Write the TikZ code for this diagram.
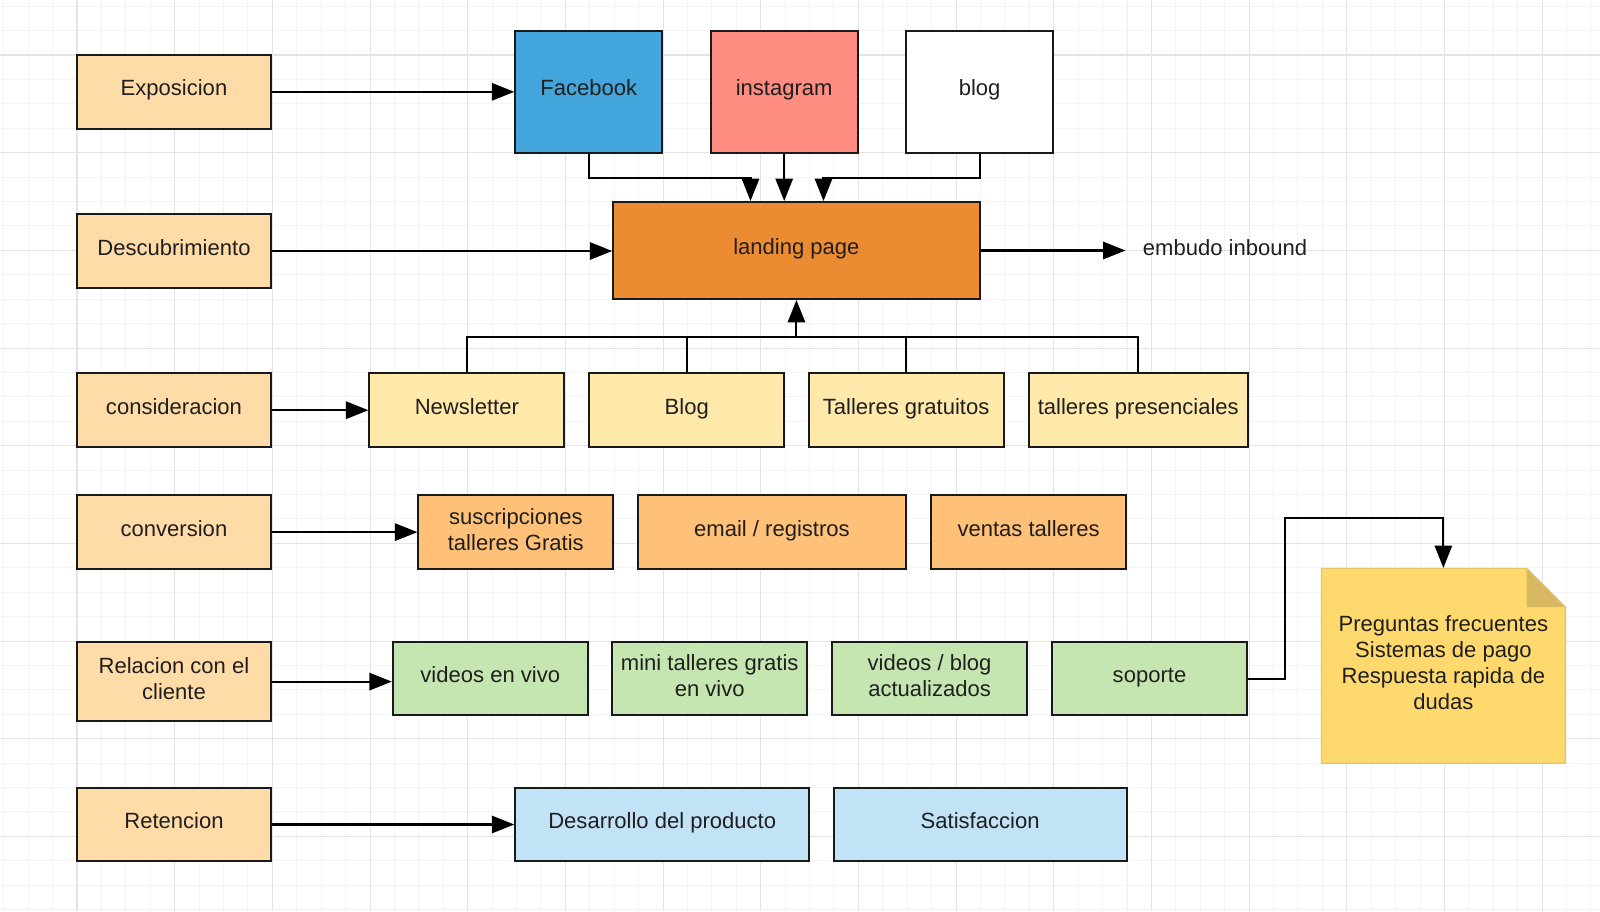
\documentclass[tikz,border=0pt]{standalone}
\usepackage{fontspec}
\setmainfont{Liberation Sans}
\usetikzlibrary{arrows.meta}
\definecolor{peach}{HTML}{FFDBA8}
\definecolor{fbblue}{HTML}{42A5DB}
\definecolor{igsalmon}{HTML}{FF8C80}
\definecolor{landorange}{HTML}{EC8C32}
\definecolor{paleyellow}{HTML}{FFE9AA}
\definecolor{paleorange}{HTML}{FFC077}
\definecolor{palegreen}{HTML}{C6E6B1}
\definecolor{paleblue}{HTML}{C2E2F5}
\definecolor{notefill}{HTML}{FFD96E}
\definecolor{noteedge}{HTML}{E6C566}
\definecolor{notefold}{HTML}{D8B961}
\definecolor{gridminor}{HTML}{F3F3F3}
\definecolor{gridmajor}{HTML}{E4E4E4}

\begin{document}
\begin{tikzpicture}[x=0.5pt,y=-0.5pt]
   \tikzstyle{every node}=[font=\fontsize{10.8}{12.8}\selectfont, text=black!88]
   \tikzstyle{box}=[draw=black!90, line width=1pt, minimum width=95.5pt, minimum height=36pt, align=center, inner sep=2pt, text height=0.72em, text depth=0.32em]
   \tikzstyle{twolines}=[text height=, text depth=, execute at end node={\rule[-3pt]{0pt}{0pt}}]
   \tikzstyle{stage}=[box, fill=peach]
   \tikzstyle{social}=[box, minimum width=72pt, minimum height=60pt]
   \tikzstyle{arr}=[line width=1pt, -{Triangle[length=11pt,width=8.5pt]}]
   \tikzstyle{link}=[line width=1pt]

\fill[white] (0,0) rectangle (1568,892.8);
\useasboundingbox (0,0) rectangle (1568,892.8);
\foreach \i in {-3,...,62} \draw[gridminor, line width=0.5pt] ({75.45+23.93*\i},0) -- ++(0,892.8);
\foreach \j in {-2,...,35} \draw[gridminor, line width=0.5pt] (0,{53.9+23.93*\j}) -- ++(1568,0);
\foreach \i in {0,...,15} \draw[gridmajor, line width=0.5pt] ({75.45+95.72*\i},0) -- ++(0,892.8);
\foreach \j in {0,...,8} \draw[gridmajor, line width=0.5pt] (0,{53.9+95.72*\j}) -- ++(1568,0);

\node[stage] (expo) at (170.5,90) {Exposicion};
\node[stage] (desc) at (170.5,246) {Descubrimiento};
\node[stage] (cons) at (170.5,402) {consideracion};
\node[stage] (conv) at (170.5,521.5) {conversion};
\node[stage, twolines, minimum height=39pt] (rel) at (170.5,668) {Relacion con el\\cliente};
\node[stage] (ret) at (170.5,808) {Retencion};

\node[social, fill=fbblue] (fb) at (577,90) {Facebook};
\node[social, fill=igsalmon] (ig) at (768.5,90) {instagram};
\node[social, fill=white] (blg) at (960,90) {blog};
\node[box, fill=landorange, minimum width=179.5pt, minimum height=47.5pt] (land) at (780.5,245.5) {landing page};
\node[anchor=west] (embudo) at (1113,243) {embudo inbound};

\node[box, fill=paleyellow] (news) at (457.5,402) {Newsletter};
\node[box, fill=paleyellow] (blog2) at (673,402) {Blog};
\node[box, fill=paleyellow] (tgrat) at (888,402) {Talleres gratuitos};
\node[box, fill=paleyellow, minimum width=107.5pt] (tpres) at (1115.5,402) {talleres presenciales};

\node[box, twolines, fill=paleorange] (susc) at (505.5,521.5) {suscripciones\\talleres Gratis};
\node[box, fill=paleorange, minimum width=131.5pt] (email) at (756.5,521.5) {email / registros};
\node[box, fill=paleorange] (ventas) at (1008,521.5) {ventas talleres};

\node[box, fill=palegreen] (vivo) at (480.5,665) {videos en vivo};
\node[box, twolines, fill=palegreen] (mini) at (695.5,665) {mini talleres gratis\\en vivo};
\node[box, twolines, fill=palegreen] (vblog) at (911,665) {videos / blog\\actualizados};
\node[box, fill=palegreen] (soporte) at (1126.5,665) {soporte};

\node[box, fill=paleblue, minimum width=144pt] (des) at (649,808) {Desarrollo del producto};
\node[box, fill=paleblue, minimum width=143.5pt] (sat) at (960.5,808) {Satisfaccion};

\coordinate (nsw) at (1295,748);
\coordinate (nne) at (1534,557);
\filldraw[fill=notefill, draw=noteedge, line width=0.6pt] (nsw) |- ([xshift=-19pt]nne) -- ([yshift=-19pt]nne) -- (nne |- nsw) -- cycle;
\fill[notefold] ([xshift=-19pt]nne) -- ([xshift=-19pt, yshift=-19pt]nne) -- ([yshift=-19pt]nne) -- cycle;
\node[twolines, align=center, minimum width=119.5pt, minimum height=95.5pt, inner sep=0pt] (note) at (1414.5,652.5) {Preguntas frecuentes\\Sistemas de pago\\Respuesta rapida de\\dudas};

\draw[arr] (expo) -- (fb);
\draw[arr] (desc.east) -- (desc.east -| land.west);
\draw[arr] (cons) -- (news);
\draw[arr] (conv) -- (susc);
\draw[arr] (rel.east) -- (rel.east -| vivo.west);
\draw[arr] (ret) -- (des);
\draw[arr, shorten >=5pt] (land.east) -- (land.east -| embudo.west);

\coordinate (fbin) at ([xshift=-22.5pt]land.north);
\coordinate (blgin) at ([xshift=13.25pt]land.north);
\draw[arr] (fb.south) -- ++(0,23) -| (fbin);
\draw[arr] (ig) -- (ig.south |- land.north);
\draw[arr] (blg.south) -- ++(0,23) -| (blgin);

\coordinate (hub) at (780.5,330);
\draw[link] (news.north) |- (hub) -| (tpres.north);
\draw[link] (blog2.north) -- (blog2.north |- hub);
\draw[link] (tgrat.north) -- (tgrat.north |- hub);
\draw[arr] (hub) -- (land.south);

\coordinate (bend) at (1259,508);
\draw[arr] (soporte.east) -| (bend) -| (note.north);

\end{tikzpicture}
\end{document}
